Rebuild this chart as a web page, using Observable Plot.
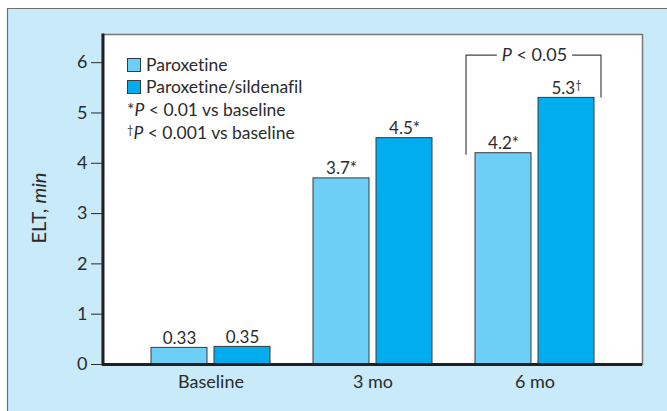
<!DOCTYPE html>
<html>
<head>
<meta charset="utf-8">
<script src="https://cdn.jsdelivr.net/npm/d3@7"></script>
<script src="https://cdn.jsdelivr.net/npm/@observablehq/plot@0.6"></script>
<style>
  html, body { margin: 0; padding: 0; background: #ffffff; }
  #chart { width: 667px; height: 411px; }
  svg text { font-variant-ligatures: none; }
</style>
</head>
<body>
<div id="chart"></div>
<script>
// ---- data ----
const categories = ["Baseline", "3 mo", "6 mo"];
const seriesNames = ["Paroxetine", "Paroxetine/sildenafil"];
const paroxetine = [0.33, 3.7, 4.2];
const paroxetineSild = [0.35, 4.5, 5.3];
const paroxetineLabels = ["0.33", "3.7*", "4.2*"];
const paroxetineSildLabels = ["0.35", "4.5*", "5.3\u2020"];
const yTicks = [0, 1, 2, 3, 4, 5, 6];
const comparisonGroup = "6 mo";
const comparisonLabel = "P < 0.05";
const comparisonLevel = 6.14;
const footnotes = [["*", " < 0.01 vs baseline"], ["\u2020", " < 0.001 vs baseline"]];

// ---- styles ----
const FONT = "Lato, 'Open Sans', sans-serif";
const TEXT = "#2b2b2b";
const colors = ["#6dcff6", "#00aeef"];
const W = 667, H = 411;
const mL = 102, mR = 25, mT = 34, mB = 47;
const barW = 56, gap = 7;

const data1 = categories.map((c, i) => ({cat: c, v: paroxetine[i], label: paroxetineLabels[i]}));
const data2 = categories.map((c, i) => ({cat: c, v: paroxetineSild[i], label: paroxetineSildLabels[i]}));

const groupW = barW * 2 + gap;          // 119
const pInner = 1 - groupW / 162.5;
const pOuter = ((W - mL - mR) / 162.5 - 3 + pInner) / 2;
const inset = groupW - barW;
const off = groupW / 2 - barW / 2;

const chart = Plot.plot({
  width: W,
  height: H,
  marginLeft: mL,
  marginRight: mR,
  marginTop: mT,
  marginBottom: mB,
  style: {background: "none", fontFamily: FONT, fontSize: "18px", color: TEXT},
  x: {domain: categories, paddingInner: pInner, paddingOuter: pOuter, align: 0.5,
      tickSize: 0, tickPadding: 11, label: null},
  y: {domain: [0, 6.56], ticks: yTicks, tickSize: 11, tickPadding: 4, label: null,
      tickFormat: d3.format("d")},
  marks: [
    Plot.frame({fill: "white", stroke: "#777", strokeWidth: 1.5}),
    Plot.barY(data1, {x: "cat", y: "v", fill: colors[0], stroke: "#3a3a3a", strokeWidth: 1, insetRight: inset}),
    Plot.barY(data2, {x: "cat", y: "v", fill: colors[1], stroke: "#3a3a3a", strokeWidth: 1, insetLeft: inset}),
    Plot.text(data1, {x: "cat", y: "v", text: "label", dx: -off, dy: -4, lineAnchor: "bottom", fontSize: 17, fill: TEXT}),
    Plot.text(data2, {x: "cat", y: "v", text: "label", dx: off, dy: -4, lineAnchor: "bottom", fontSize: 17, fill: TEXT}),
    Plot.ruleY([0], {stroke: "#231f20", strokeWidth: 3})
  ]
});

document.getElementById("chart").appendChild(chart);

const svg = d3.select(chart);
const xs = chart.scale("x");
const ys = chart.scale("y");
const Y = v => ys.apply(v);

// superscript daggers in value labels
svg.selectAll("text").each(function() {
  const el = d3.select(this);
  const s = this.textContent;
  if (this.childElementCount === 0 && s.endsWith("\u2020")) {
    el.text(null);
    el.append("tspan").text(s.slice(0, -1));
    el.append("tspan").attr("font-size", 11).attr("dy", -5).text("\u2020");
  }
});

// outer panel background
svg.insert("rect", ":first-child")
  .attr("x", 7.5).attr("y", 8.5).attr("width", W - 7.5).attr("height", H - 8.5)
  .attr("fill", "#c8eaf9");
svg.insert("path", "rect + *")
  .attr("d", `M7.5,${H}V8.5H${W}`).attr("fill", "none").attr("stroke", "#6f6f6f").attr("stroke-width", 1.2);

// thick left axis line
svg.append("line")
  .attr("x1", mL + 1).attr("x2", mL + 1)
  .attr("y1", mT - 0.5).attr("y2", Y(0) + 1.5)
  .attr("stroke", "#231f20").attr("stroke-width", 3);

// y-axis title
const yt = svg.append("text")
  .attr("transform", `translate(46,208) rotate(-90)`)
  .attr("text-anchor", "middle")
  .attr("font-family", FONT).attr("font-size", 20).attr("fill", TEXT);
yt.append("tspan").text("ELT, ");
yt.append("tspan").attr("font-style", "italic").text("min");

// legend
const lg = svg.append("g").attr("font-family", FONT).attr("font-size", 17.5)
  .attr("fill", TEXT).attr("text-anchor", "start");
seriesNames.forEach((s, i) => {
  lg.append("rect").attr("x", 127.5).attr("y", 58.5 + i * 22).attr("width", 13).attr("height", 13)
    .attr("fill", colors[i]).attr("stroke", "#3a3a3a").attr("stroke-width", 1);
  lg.append("text").attr("x", 146).attr("y", 71 + i * 22).text(s);
});
footnotes.forEach((f, i) => {
  const t = lg.append("text").attr("x", 127).attr("y", 116 + i * 23);
  if (f[0] === "*") t.append("tspan").text("*");
  else t.append("tspan").attr("font-size", 11).attr("dy", -5).text(f[0]);
  t.append("tspan").attr("font-style", "italic").attr("dy", f[0] === "*" ? 0 : 5).text("P");
  t.append("tspan").text(f[1]);
});

// comparison bracket
const bx0 = xs.apply(comparisonGroup);
const bx1 = bx0 + xs.bandwidth;
const cx = (bx0 + bx1) / 2;
const by = Y(comparisonLevel);
const ct = svg.append("text").attr("x", cx).attr("y", by + 6).attr("text-anchor", "middle")
  .attr("font-family", FONT).attr("font-size", 18).attr("fill", TEXT);
ct.append("tspan").attr("font-style", "italic").text(comparisonLabel.slice(0, 1));
ct.append("tspan").text(comparisonLabel.slice(1));
const tw = ct.node().getComputedTextLength();
const lx = bx0 - 9, rx = bx1 + 7;
const v1 = paroxetine[categories.indexOf(comparisonGroup)];
const v2 = paroxetineSild[categories.indexOf(comparisonGroup)];
svg.append("path")
  .attr("d", `M${lx},${Y(v1) + 2}V${by}H${cx - tw / 2 - 5}M${cx + tw / 2 + 5},${by}H${rx}V${Y(v2)}`)
  .attr("fill", "none").attr("stroke", "#444").attr("stroke-width", 1.2);
</script>
</body>
</html>
